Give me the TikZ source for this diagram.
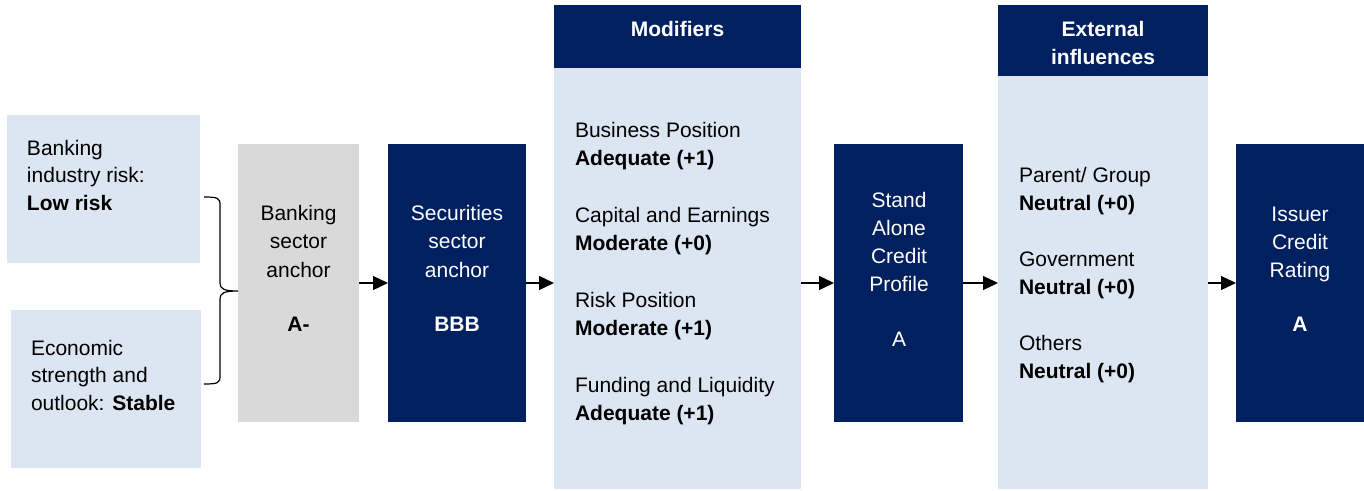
\documentclass[tikz,border=0pt]{standalone}
\usepackage{fontspec}
\setmainfont{Liberation Sans}
\usetikzlibrary{arrows.meta}
\definecolor{navy}{RGB}{0,32,96}
\definecolor{paleblue}{RGB}{220,230,242}
\definecolor{anchorgray}{RGB}{217,217,217}

\begin{document}
\begin{tikzpicture}[x=1pt,y=-1pt,
  box/.style={rectangle, inner sep=0pt, outer sep=0pt},
  light/.style={box, fill=paleblue},
  dark/.style={box, fill=navy},
  grey/.style={box, fill=anchorgray},
  txt/.style={inner sep=0pt, outer sep=0pt},
  % multi-line texts are placed by the baseline of their last line
  txtl/.style={txt, align=left, anchor=base west},
  txtc/.style={txt, align=center, anchor=base},
  flow/.style={-{Triangle[length=15pt,width=14pt]}, line width=1.3pt},
]
\useasboundingbox (0,0) rectangle (1364,490);

% panels
\node[light, minimum width=193pt, minimum height=148pt] (ind) at (103.5,189) {};
\node[light, minimum width=190pt, minimum height=158pt] (eco) at (106,389) {};
\node[grey,  minimum width=121pt, minimum height=278pt] (bank) at (298.5,283) {};
\node[dark,  minimum width=138pt, minimum height=278pt] (sec) at (457,283) {};
\node[dark,  minimum width=247pt, minimum height=63pt]  (modhead) at (677.5,36.5) {};
\node[light, minimum width=247pt, minimum height=421pt] (modbody) at (677.5,278.5) {};
\node[dark,  minimum width=129pt, minimum height=278pt] (sacp) at (898.5,283) {};
\node[dark,  minimum width=210pt, minimum height=71pt]  (exthead) at (1103,40.5) {};
\node[light, minimum width=210pt, minimum height=413pt] (extbody) at (1103,282.5) {};
\node[dark,  minimum width=128pt, minimum height=278pt] (icr) at (1300,283) {};

% texts
\node[txtl, font=\fontsize{21}{27.5}\selectfont] (indtxt) at (27,210)
  {Banking\\industry risk:\\\textbf{Low risk}};
\node[txtl, font=\fontsize{21}{27.5}\selectfont] (ecotxt) at (31,410)
  {Economic\\strength and\\outlook: \textbf{Stable}};
\node[txtc, font=\fontsize{21}{28.5}\selectfont] (banktxt) at (298.5,331)
  {Banking\\sector\\anchor\\[25.5pt]\textbf{A-}};
\node[txtc, text=white, font=\fontsize{21}{28.5}\selectfont] (sectxt) at (457,331)
  {Securities\\sector\\anchor\\[25.5pt]\textbf{BBB}};
\node[txtc, text=white, font=\bfseries\fontsize{21}{28}\selectfont] (modheadtxt) at (677.5,36)
  {Modifiers};
\node[txtl, font=\fontsize{21}{28.3}\selectfont] (modtxt) at (575,420.5)
  {Business Position\\\textbf{Adequate (+1)}\\[28.3pt]
   Capital and Earnings\\\textbf{Moderate (+0)}\\[28.3pt]
   Risk Position\\\textbf{Moderate (+1)}\\[28.3pt]
   Funding and Liquidity\\\textbf{Adequate (+1)}};
\node[txtc, text=white, font=\fontsize{21}{28}\selectfont] (sacptxt) at (899,346)
  {Stand\\Alone\\Credit\\Profile\\[27pt]A};
\node[txtc, text=white, font=\bfseries\fontsize{21}{28}\selectfont] (extheadtxt) at (1103,64)
  {External\\influences};
\node[txtl, font=\fontsize{21}{28}\selectfont] (exttxt) at (1019,378)
  {Parent/ Group\\\textbf{Neutral (+0)}\\[28pt]
   Government\\\textbf{Neutral (+0)}\\[28pt]
   Others\\\textbf{Neutral (+0)}};
\node[txtc, text=white, font=\fontsize{21}{28}\selectfont] (icrtxt) at (1300,331)
  {Issuer\\Credit\\Rating\\[26pt]\textbf{A}};

% brace joining the two inputs
\coordinate (bracetop) at (204,197);
\coordinate (bracebot) at (204,384);
\coordinate (bracetip) at (bank.west |- 0,291);
\draw[line width=1.2pt]
  (bracetop) .. controls (218,197) and (220,198) .. (220,205)
  -- (220,283) .. controls (220,289) and (224,291) .. (bracetip)
  .. controls (224,291) and (220,293) .. (220,299)
  -- (220,376) .. controls (220,383) and (218,384) .. (bracebot);

% flow arrows
\draw[flow] (bank.east) -- (sec.west);
\draw[flow] (sec.east) -- (sec.east -| modbody.west);
\draw[flow] (modbody.east |- sacp.west) -- (sacp.west);
\draw[flow] (sacp.east) -- (sacp.east -| extbody.west);
\draw[flow] (extbody.east |- icr.west) -- (icr.west);
\end{tikzpicture}
\end{document}
